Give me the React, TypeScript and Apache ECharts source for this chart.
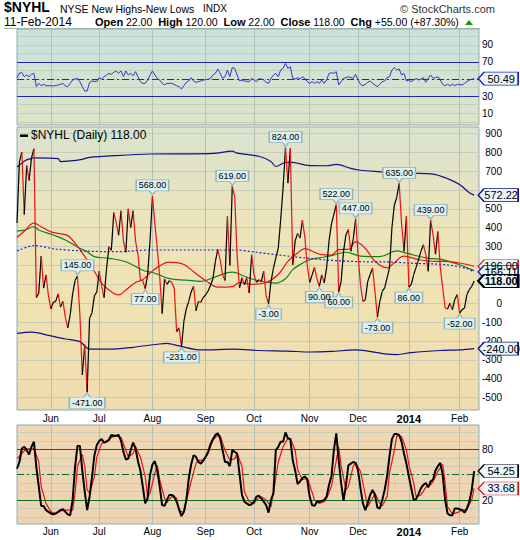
import React, { useEffect, useRef } from 'react';
import * as echarts from 'echarts';

// ---------- calendar (trading days) ----------
const START_DATE = '2013-05-13';
const N_DAYS = 190;
const HOLIDAYS = ['2013-05-27', '2013-07-04', '2013-09-02', '2013-11-28', '2013-12-25', '2014-01-01', '2014-01-20'];
const MONTHS = ['Jan', 'Feb', 'Mar', 'Apr', 'May', 'Jun', 'Jul', 'Aug', 'Sep', 'Oct', 'Nov', 'Dec'];

// ---------- data ----------
const price = [
  425, 750, 800, 470, 730, 650, 770, 818, 30, 55,
  250, 80, 150, 40, -30, 5, 10, 50, -20, 10,
  -75, -130, -60, 50, 120, 145, -60, -380, -220, -471,
  -80, -50, 40, 60, 170, 90, 30, 180, 300, 280,
  480, 430, 360, 490, 330, 270, 500, 400, 490, 330,
  260, 125, 120, 77, 150, 330, 568, 420, 290, 140,
  -55, 130, 100, 120, 110, 80, -150, -130, -231, -95,
  -30, 10, 60, 90, -40, 10, 5, 30, 45, 65,
  95, 130, 220, 285, 230, 150, 120, 460, 200, 619,
  565, 250, 81, 135, 98, 135, 54, 257, 150, 110,
  125, 115, 170, 40, -3, 115, 185, 240, 290, 440,
  610, 824, 636, 820, 204, 330, 370, 345, 440, 350,
  200, 110, 150, 190, 130, 90, 150, 108, 187, 330,
  420, 470, 522, 60, 116, 275, 363, 390, 275, 340,
  447, 257, 98, 10, 19, 116, 152, 187, 60, -73,
  10, 63, 81, 134, 187, 400, 520, 560, 635, 420,
  275, 460, 86, 100, 152, 190, 230, 275, 310, 257,
  169, 439, 363, 260, 380, 187, 81, -25, -30, 0,
  -34, 20, 46, -52, -34, -25, 46, 72, 90, 118,
];

// indices of annotated highs / lows
const highIdx = [25, 56, 89, 111, 132, 140, 158, 171];
const lowIdx = [29, 53, 68, 104, 125, 133, 149, 162, 183];

const upperBand = [[0, 721], [3, 752], [5, 763], [7, 770], [17, 766], [18, 750], [21, 752], [27, 762], [30, 772], [41, 782], [55, 790], [69, 791], [81, 793], [89, 805], [91, 795], [100, 778], [105, 750], [107, 724], [111, 745], [114, 746], [120, 730], [128, 728], [132, 735], [138, 714], [142, 704], [149, 697], [156, 692], [163, 688], [172, 684], [178, 660], [183, 628], [187, 585], [189, 572.22]];
const lowerBand = [[0, -159], [6, -153], [14, -173], [20, -189], [26, -203], [30, -243], [38, -243], [48, -233], [58, -217], [62, -212], [67, -226], [76, -247], [90, -243], [100, -250], [112, -253], [121, -258], [130, -255], [140, -247], [152, -268], [157, -272], [163, -261], [175, -250], [183, -247], [189, -240]];
const longMA = [[0, 277], [7, 305], [16, 287], [27, 277], [41, 273], [55, 282], [76, 282], [90, 282], [99, 270], [114, 247], [128, 229], [142, 220], [153, 219], [163, 212], [172, 208], [178, 203], [183, 192], [186, 183], [189, 166.11]];
const greenMA = [[0, 382], [3, 387], [7, 405], [9, 388], [15, 361], [20, 335], [26, 291], [29, 273], [32, 247], [38, 238], [45, 220], [52, 175], [57, 159], [63, 130], [70, 122], [76, 116], [81, 135], [89, 165], [94, 143], [100, 118], [107, 107], [111, 130], [114, 178], [118, 212], [121, 231], [125, 240], [130, 252], [136, 270], [142, 250], [150, 247], [157, 277], [161, 265], [170, 238], [175, 234], [181, 212], [183, 204], [189, 173]];
const redMA = [[0, 348], [3, 381], [7, 424], [10, 405], [14, 378], [17, 370], [21, 358], [24, 318], [28, 248], [32, 169], [35, 106], [38, 70], [42, 44], [45, 70], [49, 110], [52, 125], [55, 160], [58, 190], [63, 218], [66, 215], [69, 205], [73, 167], [78, 120], [83, 85], [89, 88], [92, 110], [97, 100], [103, 110], [108, 152], [112, 222], [116, 266], [119, 289], [123, 270], [126, 257], [130, 255], [133, 284], [137, 286], [140, 325], [144, 290], [148, 222], [153, 187], [156, 215], [160, 249], [166, 231], [173, 222], [177, 222], [183, 213], [189, 196]];

const rsi = [[0, 51], [1, 57], [2, 57.4], [3, 52.7], [4, 54.7], [5, 52.7], [6, 55.5], [7, 56.6], [8, 41], [9, 44.9], [10, 42.2], [11, 43.8], [12, 42.2], [14, 42.2], [15, 41.8], [17, 43], [18, 43.8], [19, 44.9], [20, 41.8], [21, 41], [22, 44.9], [23, 48.8], [24, 50], [25, 50.8], [26, 46.9], [27, 41], [28, 36], [29, 36], [30, 46.1], [31, 47.7], [33, 46.9], [34, 51.6], [35, 50], [36, 52.7], [37, 54.7], [38, 56.6], [39, 55.5], [40, 57.8], [41, 59.4], [42, 56.6], [43, 59.4], [44, 53], [45, 59.4], [46, 54.7], [47, 56.6], [48, 53.9], [49, 58.6], [50, 52.7], [51, 46.9], [52, 44.9], [53, 44.9], [54, 48.8], [55, 54.7], [56, 59.4], [57, 54.7], [58, 50.8], [59, 48.8], [60, 44.9], [61, 43], [62, 44.9], [64, 44.9], [66, 42.2], [67, 41], [68, 38.3], [69, 42.2], [70, 46.1], [71, 47.7], [72, 51.6], [73, 47.7], [74, 46.1], [76, 47.7], [77, 48.8], [79, 49.6], [80, 50.8], [81, 54.7], [82, 56.6], [83, 61.7], [84, 56.6], [85, 50.8], [86, 52.7], [87, 60.5], [88, 52.7], [89, 63.3], [90, 62.5], [91, 54.7], [92, 47.7], [93, 48.8], [94, 47.7], [96, 46.9], [97, 50.8], [98, 48.8], [99, 46.9], [100, 50.4], [101, 50], [102, 48.8], [103, 46.1], [104, 44.9], [105, 50.8], [106, 54.7], [107, 56.6], [108, 52.7], [109, 60.5], [110, 62.5], [111, 68.3], [112, 62.5], [113, 64.4], [114, 50.8], [115, 50], [116, 51.6], [117, 50], [118, 52.7], [119, 50.8], [120, 46.9], [121, 44.9], [122, 46.9], [123, 44.9], [124, 46.9], [125, 44.9], [126, 48.8], [127, 44.9], [128, 48.8], [129, 56.6], [130, 57.4], [131, 56.6], [132, 58.6], [133, 43], [134, 46.9], [135, 50.8], [136, 51.6], [137, 52.7], [138, 51.6], [139, 50.8], [140, 55.5], [141, 48.8], [142, 43.8], [143, 42.2], [144, 43.8], [145, 46.1], [146, 47.7], [147, 44.9], [148, 43], [149, 41], [150, 43.8], [151, 46.9], [152, 47.7], [153, 51.6], [154, 52.7], [155, 60.5], [156, 63.3], [157, 60.5], [158, 61.7], [159, 54.7], [160, 56.6], [161, 47.7], [162, 48.8], [163, 46.9], [164, 48.8], [165, 50.8], [166, 48.8], [167, 50], [168, 51.6], [169, 46.1], [170, 50.8], [171, 54.7], [172, 50.8], [173, 51.6], [174, 52.7], [175, 48.8], [176, 43.8], [177, 42.2], [178, 43.8], [179, 42.2], [180, 43.8], [181, 42.2], [182, 43.8], [184, 43], [185, 44.9], [186, 46.9], [187, 48.8], [189, 50.49]];

const stochK = [
  57, 65, 81, 83, 79, 74, 83, 89, 59, 36,
  13, 13, 8, 6, 4, 3, 4, 6, 8, 9,
  6, 3, 2, 20, 59, 84, 84, 55, 30, 8,
  24, 47, 73, 85, 90, 92, 88, 89, 91, 97,
  96, 96, 97, 90, 77, 68, 69, 79, 88, 81,
  66, 55, 36, 16, 22, 50, 62, 66, 55, 36,
  14, 13, 20, 26, 26, 24, 18, 9, 1, 6,
  20, 45, 62, 73, 71, 65, 63, 67, 71, 77,
  86, 92, 97, 99, 93, 79, 65, 65, 60, 79,
  77, 75, 51, 26, 18, 16, 14, 15, 18, 24,
  25, 22, 18, 14, 5, 20, 28, 79, 83, 89,
  89, 100, 93, 92, 67, 55, 39, 42, 46, 48,
  44, 24, 14, 13, 18, 18, 19, 20, 24, 38,
  48, 79, 99, 67, 40, 19, 38, 61, 63, 65,
  64, 55, 34, 16, 8, 16, 26, 32, 26, 11,
  10, 20, 32, 48, 72, 92, 98, 98, 97, 89,
  75, 63, 48, 34, 20, 21, 27, 34, 38, 40,
  35, 42, 44, 55, 60, 64, 50, 20, 4, 2,
  2, 10, 10, 9, 8, 5, 10, 18, 32, 54.25,
];
const stochD = [[0, 69], [2, 75], [4, 81], [6, 80], [7, 81], [9, 65], [10, 36], [12, 16], [14, 6], [16, 4], [18, 7], [20, 8], [23, 8], [24, 28], [25, 60], [27, 74], [28, 60], [29, 32], [30, 28], [32, 48], [33, 71], [35, 87], [37, 90], [39, 94], [41, 96], [43, 94], [45, 79], [46, 71], [48, 75], [49, 83], [51, 71], [53, 48], [54, 24], [55, 28], [57, 52], [58, 61], [59, 44], [61, 22], [62, 17], [64, 24], [66, 22], [67, 8], [69, 5], [70, 18], [72, 42], [74, 63], [75, 67], [77, 67], [79, 75], [81, 91], [83, 97], [84, 96], [86, 79], [88, 67], [90, 69], [91, 75], [93, 60], [94, 30], [96, 18], [98, 16], [99, 20], [101, 24], [103, 20], [105, 12], [106, 28], [108, 65], [110, 83], [112, 93], [113, 93], [115, 79], [116, 56], [118, 44], [120, 46], [121, 38], [123, 20], [125, 16], [127, 18], [128, 22], [130, 36], [132, 67], [133, 83], [134, 60], [136, 32], [137, 36], [139, 60], [140, 64], [142, 54], [144, 26], [145, 12], [147, 22], [148, 28], [150, 16], [151, 13], [153, 24], [154, 52], [156, 79], [157, 96], [159, 95], [161, 79], [162, 62], [164, 40], [165, 24], [167, 26], [169, 35], [171, 38], [172, 42], [174, 54], [176, 62], [177, 40], [178, 12], [180, 3.5], [182, 5], [184, 8], [186, 9], [188, 20], [189, 33.68]];

const rsiLevels = [30, 50, 70];
const stochLevels = [20, 50, 80];
// tick labels that are not hidden behind the value tags
const rsiTicks = [10, 30, 70, 90];
const mainTicks = [-500, -400, -300, -200, -100, 0, 300, 400, 500, 700, 800, 900];
const stochTicks = [20, 80];
const rsiGrid = [0, 10, 20, 30, 40, 50, 60, 70, 80, 90, 100];
const mainGrid = [-500, -400, -300, -200, -100, 0, 100, 200, 300, 400, 500, 600, 700, 800, 900];
const stochGrid = [0, 10, 20, 30, 40, 50, 60, 70, 80, 90, 100];

// ---------- helpers ----------
function tradingDays(start: string, count: number): string[] {
  const out: string[] = [];
  const d = new Date(start + 'T00:00:00Z');
  while (out.length < count) {
    const dow = d.getUTCDay();
    const s = d.toISOString().slice(0, 10);
    if (dow !== 0 && dow !== 6 && HOLIDAYS.indexOf(s) < 0) out.push(s);
    d.setUTCDate(d.getUTCDate() + 1);
  }
  return out;
}
const dates = tradingDays(START_DATE, N_DAYS);
const categories = [...dates, 'pad1', 'pad2'];
const monthStart = new Set<number>();
dates.forEach((d, i) => {
  if (i > 0 && d.slice(5, 7) !== dates[i - 1].slice(5, 7)) monthStart.add(i);
});
const LAST = N_DAYS - 1;
const FONT = 'Liberation Sans, Arial, sans-serif';

const monthFmt = (v: string) => {
  if (!v || v.startsWith('pad')) return '';
  const m = +v.slice(5, 7);
  if (m === 1) return '{b|' + v.slice(0, 4) + '}';
  return MONTHS[m - 1];
};

const TAG_PATH = 'path://M0,6.5L6,0H40V13H6Z';
function tag(value: number, border: string, bold = false, fill = '#eaf6fb') {
  return {
    coord: [LAST, value],
    symbol: TAG_PATH,
    symbolSize: [40, 13],
    symbolOffset: [24, 0],
    itemStyle: { color: fill, borderColor: border, borderWidth: bold ? 1.6 : 1 },
    label: {
      show: true, position: 'inside', offset: [3, 0], formatter: value.toFixed(2),
      color: '#000', fontSize: 11, fontFamily: FONT, fontWeight: bold ? 'bold' : 'normal',
    },
  };
}
function textW(s: string) {
  let w = 0;
  for (const c of s) w += c === '.' ? 2.5 : c === '-' ? 3 : 5;
  return w + 5;
}
const HIGH_PATH = 'path://M0,0H34V11H20L17,15L14,11H0Z';
const LOW_PATH = 'path://M0,4H14L17,0L20,4H34V15H0Z';
function annot(i: number, high: boolean) {
  const t = price[i].toFixed(2);
  return {
    coord: [i, price[i]],
    symbol: high ? HIGH_PATH : LOW_PATH,
    symbolSize: [textW(t), 15],
    symbolOffset: [0, high ? -8.5 : 8.5],
    itemStyle: { color: '#dcf1f1', borderColor: '#93b2ba', borderWidth: 1 },
    label: {
      show: true, position: 'inside', offset: [0, high ? -2 : 2], formatter: t,
      color: '#000', fontSize: 9, fontFamily: FONT,
    },
  };
}

const priceSegs = price.slice(1).map((v, i) => ({
  coords: [[i, price[i]], [i + 1, v]],
  lineStyle: { color: v >= price[i] ? '#000000' : '#ee1111' },
}));

const grad = (stops: [number, string][]) =>
  new echarts.graphic.LinearGradient(0, 0, 0, 1, stops.map(([offset, color]) => ({ offset, color })));

const GRID_BORDER = '#94aab2';
const SPLIT = '#c9cdb8';

function xAxis(gridIndex: number, showLabels: boolean, margin: number) {
  return {
    type: 'category', gridIndex, data: categories, boundaryGap: false,
    axisLine: { show: false }, axisTick: { show: false },
    axisLabel: {
      show: showLabels, interval: (i: number) => monthStart.has(i), formatter: monthFmt,
      color: '#000', fontSize: 10, fontFamily: FONT, margin,
      rich: { b: { fontWeight: 'bold', fontSize: 11, fontFamily: FONT, color: '#000' } },
    },
    splitLine: { show: true, interval: (i: number) => monthStart.has(i), lineStyle: { color: '#b4c0b2', width: 1 } },
  };
}

const option: any = {
  animation: false,
  backgroundColor: '#ffffff',
  grid: [
    { left: 17, right: 41, top: 29, height: 96, show: true, borderColor: GRID_BORDER, borderWidth: 1, backgroundColor: grad([[0, '#c8e2de'], [1, '#dde4c8']]) },
    { left: 17, right: 41, top: 127, height: 283, show: true, borderColor: GRID_BORDER, borderWidth: 1, backgroundColor: grad([[0, '#dae3cf'], [0.35, '#ece4bb'], [0.6, '#f1e2b2'], [1, '#eddcb0']]) },
    { left: 17, right: 41, top: 425, height: 99, show: true, borderColor: GRID_BORDER, borderWidth: 1, backgroundColor: grad([[0, '#efd8b4'], [1, '#ecd3b3']]) },
  ],
  xAxis: [xAxis(0, false, 4), xAxis(1, true, 3), xAxis(2, true, 2)],
  yAxis: [
    {
      type: 'value', gridIndex: 0, position: 'right', min: -3.8, max: 108.5,
      axisLine: { show: false }, axisTick: { show: false, customValues: rsiGrid },
      axisLabel: { customValues: rsiTicks, margin: 3, fontSize: 10, fontFamily: FONT, color: '#000' },
      splitLine: { show: true, lineStyle: { color: SPLIT } },
    },
    {
      type: 'value', gridIndex: 1, position: 'right', min: -565, max: 933,
      axisLine: { show: false }, axisTick: { show: false, customValues: mainGrid },
      axisLabel: { customValues: mainTicks, margin: 23, align: 'right', fontSize: 10, fontFamily: FONT, color: '#000' },
      splitLine: { show: true, lineStyle: { color: SPLIT } },
    },
    {
      type: 'value', gridIndex: 2, position: 'right', min: -8.4, max: 108.8,
      axisLine: { show: false }, axisTick: { show: false, customValues: stochGrid },
      axisLabel: { customValues: stochTicks, margin: 3, fontSize: 10, fontFamily: FONT, color: '#000' },
      splitLine: { show: true, lineStyle: { color: SPLIT } },
    },
  ],
  series: [
    // RSI panel
    {
      type: 'line', xAxisIndex: 0, yAxisIndex: 0, data: rsi, symbol: 'none',
      lineStyle: { color: '#3434d0', width: 1 }, z: 5,
      markLine: {
        silent: true, symbol: ['none', 'none'], label: { show: false },
        data: rsiLevels.map((v) => ({ yAxis: v, lineStyle: { color: '#2424b4', width: 1.2, type: v === 50 ? [7, 3, 2, 3] : 'solid' } })),
      },
      markPoint: { data: [tag(rsi[rsi.length - 1][1], '#2020c0')] },
    },
    // main panel
    { type: 'line', xAxisIndex: 1, yAxisIndex: 1, data: upperBand, symbol: 'none', smooth: 0.3, lineStyle: { color: '#10108a', width: 1.2 }, z: 3, markPoint: { data: [tag(572.22, '#10108a')] } },
    { type: 'line', xAxisIndex: 1, yAxisIndex: 1, data: lowerBand, symbol: 'none', smooth: 0.3, lineStyle: { color: '#10108a', width: 1.2 }, z: 3, markPoint: { data: [tag(-240, '#10108a')] } },
    { type: 'line', xAxisIndex: 1, yAxisIndex: 1, data: greenMA, symbol: 'none', smooth: 0.4, lineStyle: { color: '#11801a', width: 1.2 }, z: 3 },
    { type: 'line', xAxisIndex: 1, yAxisIndex: 1, data: redMA, symbol: 'none', smooth: 0.4, lineStyle: { color: '#ee1111', width: 1.2 }, z: 3, markPoint: { data: [tag(redMA[redMA.length - 1][1], '#ee1111')] } },
    { type: 'line', xAxisIndex: 1, yAxisIndex: 1, data: longMA, symbol: 'none', smooth: 0.3, lineStyle: { color: '#2222cc', width: 1.2, type: [2, 2] }, z: 3, markPoint: { data: [tag(166.11, '#2020c0')] } },
    {
      type: 'lines', coordinateSystem: 'cartesian2d', xAxisIndex: 1, yAxisIndex: 1, polyline: false,
      data: priceSegs, lineStyle: { width: 1.2, opacity: 1 }, silent: true, z: 4,
    },
    {
      type: 'line', xAxisIndex: 1, yAxisIndex: 1, data: price, symbol: 'none', lineStyle: { opacity: 0 }, z: 6,
      markPoint: {
        data: [
          ...highIdx.map((i) => annot(i, true)),
          ...lowIdx.map((i) => annot(i, false)),
          tag(price[LAST], '#000000', true),
        ],
      },
    },
    // stochastics
    {
      type: 'line', xAxisIndex: 2, yAxisIndex: 2, data: stochD, symbol: 'none',
      lineStyle: { color: '#ee1111', width: 1.2 }, z: 4,
      markLine: {
        silent: true, symbol: ['none', 'none'], label: { show: false },
        data: stochLevels.map((v) => ({ yAxis: v, lineStyle: { color: '#0c6a22', width: 1.2, type: v === 50 ? [7, 3, 2, 3] : 'solid' } })),
      },
      markPoint: { data: [tag(stochD[stochD.length - 1][1], '#ee1111')] },
    },
    {
      type: 'line', xAxisIndex: 2, yAxisIndex: 2, data: stochK, symbol: 'none',
      lineStyle: { color: '#000000', width: 2 }, z: 5,
      markPoint: { data: [tag(stochK[LAST], '#000000')] },
    },
  ],
  graphic: [
    { type: 'text', x: 4, y: 0, style: { text: '$NYHL', fontSize: 14, fontWeight: 'bold', fontFamily: FONT, fill: '#000', verticalAlign: 'top' } },
    { type: 'text', x: 60, y: 3, style: { text: 'NYSE New Highs-New Lows', fontSize: 10.5, fontFamily: FONT, fill: '#000', verticalAlign: 'top' } },
    { type: 'text', x: 203, y: 3, style: { text: 'INDX', fontSize: 10, fontFamily: FONT, fill: '#000', verticalAlign: 'top' } },
    { type: 'text', x: 400, y: 3, style: { text: '© StockCharts.com', fontSize: 11, fontFamily: FONT, fill: '#333', verticalAlign: 'top' } },
    { type: 'text', x: 4, y: 16, style: { text: '11-Feb-2014', fontSize: 12, fontFamily: FONT, fill: '#000', verticalAlign: 'top' } },
    {
      type: 'text', x: 95, y: 16,
      style: {
        text: '{b|Open} 22.00  {b|High} 120.00  {b|Low} 22.00  {b|Close} 118.00  {b|Chg} +55.00 (+87.30%)',
        fontSize: 10.5, fontFamily: FONT, fill: '#000', verticalAlign: 'top',
        rich: { b: { fontWeight: 'bold', fontSize: 11, fontFamily: FONT, fill: '#000' } },
      },
    },
    { type: 'polygon', shape: { points: [[465, 25], [473, 25], [469, 20]] }, style: { fill: '#129a12' } },
    { type: 'line', shape: { x1: 4, y1: 28.5, x2: 480, y2: 28.5 }, style: { stroke: '#9fb0a6', lineWidth: 1 } },
    { type: 'rect', shape: { x: 20, y: 134.5, width: 8, height: 2.5 }, style: { fill: '#000' }, z: 10 },
    { type: 'text', x: 31, y: 129, z: 10, style: { text: '$NYHL (Daily) 118.00', fontSize: 12, fontFamily: FONT, fill: '#000', verticalAlign: 'top' } },
  ],
};

export default function App() {
  const ref = useRef<HTMLDivElement>(null);
  useEffect(() => {
    const chart = echarts.init(ref.current!, null, { renderer: 'svg' });
    chart.setOption(option);
    return () => chart.dispose();
  }, []);
  return <div ref={ref} style={{ position: 'absolute', left: 0, top: 0, width: 520, height: 540 }} />;
}
